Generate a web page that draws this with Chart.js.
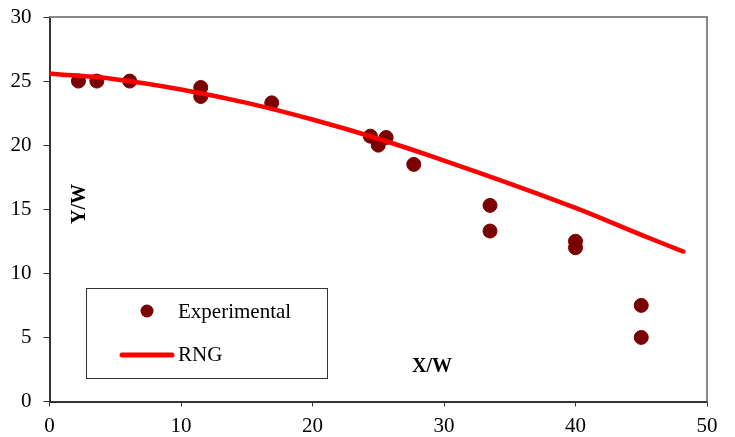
<!DOCTYPE html>
<html>
<head>
<meta charset="utf-8">
<script src="https://cdn.jsdelivr.net/npm/chart.js@4.4.1/dist/chart.umd.min.js"></script>
<style>
  html, body { margin: 0; padding: 0; background: #fff; }
  #wrap { width: 735px; height: 437px; }
</style>
</head>
<body>
<div id="wrap"><canvas id="chart"></canvas></div>
<script>
// Experimental points (X/W, Y/W)
const expX = [2.2, 3.6, 6.1, 11.5, 11.5, 16.9, 24.4, 25.0, 25.6, 27.7, 33.5, 33.5, 40.0, 40.0, 45.0, 45.0];
const expY = [25.0, 25.0, 25.0, 24.5, 23.8, 23.3, 20.7, 20.0, 20.6, 18.5, 15.3, 13.3, 12.5, 12.0, 7.5, 5.0];

// RNG prediction curve
const rngX = [0, 5, 10, 15, 20, 25, 30, 35, 40, 45, 48.2];
const rngY = [25.6, 25.15, 24.35, 23.3, 22.0, 20.5, 18.8, 17.0, 15.1, 13.0, 11.7];

const xTicks = [0, 10, 20, 30, 40, 50];
const yTicks = [0, 5, 10, 15, 20, 25, 30];

const serif = 'Liberation Serif, Times New Roman, serif';
const expColor = '#7b0000';
const rngColor = '#ff0000';

// frame, in-plot legend and axis titles
const decorations = {
    id: 'decorations',
    beforeDatasetsDraw(chart) {
        const { ctx, chartArea: a } = chart;
        ctx.save();
        ctx.strokeStyle = '#888888';
        ctx.lineWidth = 2;
        ctx.beginPath();
        ctx.moveTo(a.left, a.top);
        ctx.lineTo(a.right, a.top);
        ctx.lineTo(a.right, a.bottom);
        ctx.stroke();
        ctx.restore();
    },
    afterDraw(chart) {
        const { ctx } = chart;
        ctx.save();
        // legend box
        ctx.fillStyle = '#fff';
        ctx.fillRect(86, 288, 241, 90);
        ctx.strokeStyle = '#333';
        ctx.lineWidth = 1;
        ctx.strokeRect(86.5, 288.5, 241, 90);
        ctx.fillStyle = expColor;
        ctx.beginPath();
        ctx.arc(147, 311, 6.5, 0, Math.PI * 2);
        ctx.fill();
        ctx.strokeStyle = rngColor;
        ctx.lineWidth = 5;
        ctx.lineCap = 'round';
        ctx.beginPath();
        ctx.moveTo(122, 355);
        ctx.lineTo(172, 355);
        ctx.stroke();
        ctx.fillStyle = '#000';
        ctx.font = '21px ' + serif;
        ctx.textBaseline = 'middle';
        ctx.textAlign = 'left';
        ctx.fillText('Experimental', 178, 312);
        ctx.fillText('RNG', 178, 355);
        // axis titles
        ctx.font = 'bold 20px ' + serif;
        ctx.textAlign = 'center';
        ctx.fillText('X/W', 432, 367);
        ctx.translate(80, 204);
        ctx.rotate(-Math.PI / 2);
        ctx.fillText('Y/W', 0, 0);
        ctx.restore();
    }
};

new Chart(document.getElementById('chart'), {
    type: 'scatter',
    data: {
        datasets: [
            {
                label: 'Experimental',
                data: expX.map((x, i) => ({ x: x, y: expY[i] })),
                backgroundColor: expColor,
                borderColor: expColor,
                pointRadius: 7,
                pointHoverRadius: 7,
                order: 2
            },
            {
                label: 'RNG',
                type: 'line',
                data: rngX.map((x, i) => ({ x: x, y: rngY[i] })),
                borderColor: rngColor,
                borderWidth: 4.5,
                borderCapStyle: 'round',
                pointRadius: 0,
                fill: false,
                tension: 0.4,
                order: 1
            }
        ]
    },
    options: {
        responsive: true,
        maintainAspectRatio: false,
        animation: false,
        layout: { padding: { left: 0, right: 28, top: 17, bottom: 0 } },
        plugins: {
            legend: { display: false },
            tooltip: { enabled: false }
        },
        scales: {
            x: {
                type: 'linear',
                min: 0,
                max: 50,
                afterBuildTicks: s => { s.ticks = xTicks.map(v => ({ value: v })); },
                afterFit: s => { s.height = 35.5; s.paddingLeft = 0; s.paddingRight = 0; },
                grid: { drawOnChartArea: false, drawTicks: true, tickLength: 5, color: '#333', lineWidth: 1 },
                border: { color: '#333', width: 2 },
                ticks: { color: '#000', padding: 7, font: { family: serif, size: 21 } }
            },
            y: {
                type: 'linear',
                min: 0,
                max: 30,
                afterBuildTicks: s => { s.ticks = yTicks.map(v => ({ value: v })); },
                afterFit: s => { s.width = 49.5; s.paddingTop = 0; s.paddingBottom = 0; },
                grid: { drawOnChartArea: false, drawTicks: true, tickLength: 6, color: '#333', lineWidth: 1 },
                border: { color: '#333', width: 2 },
                ticks: { color: '#000', padding: 12, font: { family: serif, size: 21 } }
            }
        }
    },
    plugins: [decorations]
});
</script>
</body>
</html>
